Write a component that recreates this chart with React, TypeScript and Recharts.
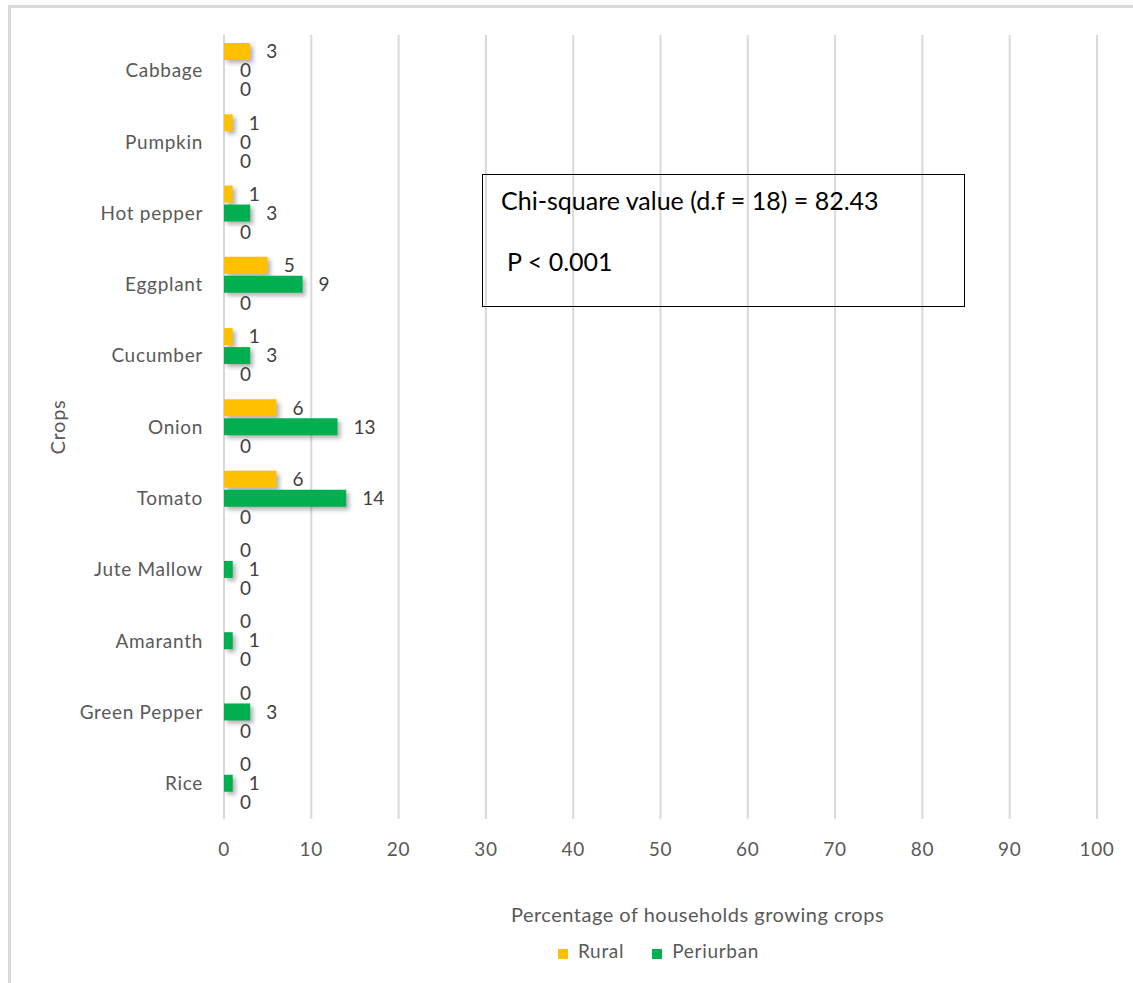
import { Bar, BarChart, CartesianGrid, LabelList, Legend, XAxis, YAxis } from 'recharts';

const crops = [
  'Cabbage',
  'Pumpkin',
  'Hot pepper',
  'Eggplant',
  'Cucumber',
  'Onion',
  'Tomato',
  'Jute Mallow',
  'Amaranth',
  'Green Pepper',
  'Rice',
];
const rural = [3, 1, 1, 5, 1, 6, 6, 0, 0, 0, 0];
const periurban = [0, 0, 3, 9, 3, 13, 14, 1, 1, 3, 1];
const urban = [0, 0, 0, 0, 0, 0, 0, 0, 0, 0, 0];
const percentTicks = [0, 10, 20, 30, 40, 50, 60, 70, 80, 90, 100];

const chiSquareText = 'Chi-square value (d.f = 18) = 82.43';
const pValueText = 'P < 0.001';

const colors = { rural: '#FFC000', periurban: '#00B050' } as const;
const seriesOrder = ['rural', 'periurban', 'urban'];
const font = 'Lato, "Open Sans", sans-serif';
const axisText = { fontSize: 19, fill: '#595959', fontFamily: font, letterSpacing: 0.7 };
const labelStyle = { fontSize: 19, fill: '#404040', fontFamily: font };

const data = crops.map((crop, i) => ({
  crop,
  rural: rural[i],
  periurban: periurban[i],
  urban: urban[i],
}));

export default function App() {
  return (
    <div style={{ position: 'absolute', left: 0, top: 0, width: 1133, height: 983, overflow: 'hidden', background: '#fff' }}>
      <style>{`.recharts-bar-rectangle path { filter: drop-shadow(3px 3px 2px rgba(0,0,0,0.3)); }`}</style>
      <div
        style={{
          position: 'absolute',
          left: 8,
          top: 5,
          width: 1200,
          height: 1100,
          borderTop: '3px solid #DADADA',
          borderLeft: '3px solid #DADADA',
        }}
      />
      <div style={{ position: 'absolute', left: 0, top: 0 }}>
        <BarChart
          width={1133}
          height={983}
          data={data}
          layout="vertical"
          margin={{ top: 35, right: 36, left: 10, bottom: 21 }}
          barSize={17}
          barGap={2}
        >
          <CartesianGrid horizontal={false} stroke="#D9D9D9" strokeWidth={2} />
          <XAxis
            type="number"
            domain={[0, 100]}
            ticks={percentTicks}
            axisLine={false}
            tickLine={false}
            tickMargin={18}
            height={120}
            tick={axisText}
            label={{
              value: 'Percentage of households growing crops',
              position: 'insideBottom',
              offset: 17,
              dx: 37,
              style: { fontSize: 20, fill: '#595959', fontFamily: font, letterSpacing: 0.5 },
            }}
          />
          <YAxis
            type="category"
            dataKey="crop"
            width={214}
            axisLine={false}
            tickLine={false}
            tickMargin={15}
            tick={axisText}
            label={{
              value: 'Crops',
              angle: -90,
              position: 'insideLeft',
              offset: 48,
              style: { fontSize: 20, fill: '#595959', fontFamily: font, letterSpacing: 0.7, textAnchor: 'middle' },
            }}
          />
          <Legend
            verticalAlign="bottom"
            align="center"
            iconType="square"
            iconSize={10}
            wrapperStyle={{ left: 129 }}
            itemSorter={(item) => seriesOrder.indexOf(String(item.dataKey))}
            formatter={(value) => (
              <span style={{ color: '#595959', fontSize: 19, fontFamily: font, letterSpacing: 0.7, marginLeft: 6, marginRight: 18 }}>
                {value}
              </span>
            )}
          />
          <Bar dataKey="rural" name="Rural" fill={colors.rural} minPointSize={0.01} isAnimationActive={false}>
            <LabelList dataKey="rural" position="right" offset={16} style={labelStyle} />
          </Bar>
          <Bar dataKey="periurban" name="Periurban" fill={colors.periurban} minPointSize={0.01} isAnimationActive={false}>
            <LabelList dataKey="periurban" position="right" offset={16} style={labelStyle} />
          </Bar>
          <Bar dataKey="urban" name="Urban" fill="#7F7F7F" legendType="none" minPointSize={0.01} isAnimationActive={false}>
            <LabelList dataKey="urban" position="right" offset={16} style={labelStyle} />
          </Bar>
        </BarChart>
      </div>
      <div
        style={{
          position: 'absolute',
          left: 482,
          top: 174,
          width: 481,
          height: 131,
          border: '1.5px solid #000',
          fontFamily: font,
          fontSize: 25,
          color: '#000',
          whiteSpace: 'nowrap',
        }}
      >
        <div style={{ position: 'absolute', left: 18, top: 10 }}>{chiSquareText}</div>
        <div style={{ position: 'absolute', left: 24, top: 71 }}>{pValueText}</div>
      </div>
    </div>
  );
}
